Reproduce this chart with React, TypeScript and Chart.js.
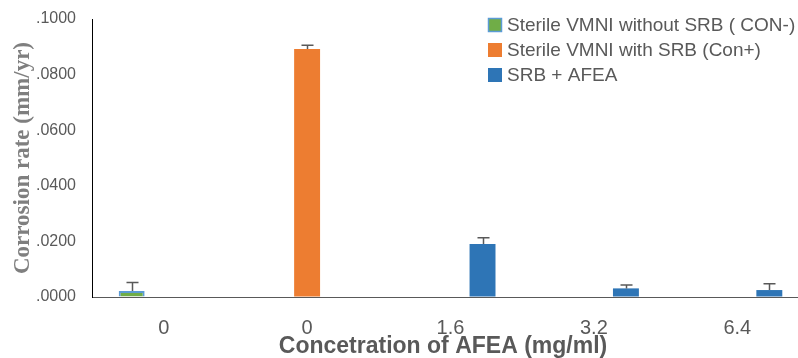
import React, { useEffect, useRef } from "react";
import { Chart, registerables } from "chart.js";

Chart.register(...registerables);

const categories = ["0", "0", "1.6", "3.2", "6.4"];
const seriesLabels = ["Sterile VMNI without SRB ( CON-)", "Sterile VMNI with SRB (Con+)", "SRB + AFEA"];
const conNeg = [0.0022, null, null, null, null];
const conPos = [null, 0.0892, null, null, null];
const srbAfea = [null, null, 0.0191, 0.0031, 0.0025];
const conNegErr = [0.003, 0, 0, 0, 0];
const conPosErr = [0, 0.0014, 0, 0, 0];
const srbAfeaErr = [0, 0, 0.0022, 0.0012, 0.0023];
const yTicks = [0, 0.02, 0.04, 0.06, 0.08, 0.1];

const colors = ["#70AD47", "#ED7D31", "#2E75B6"];
const borderColors = ["#5B9BD5", "#ED7D31", "#2E75B6"];
const errs = [conNegErr, conPosErr, srbAfeaErr];

const errorBarPlugin = {
  id: "errorBars",
  afterDatasetsDraw(chart: any) {
    const ctx = chart.ctx;
    const y = chart.scales.y;
    ctx.save();
    ctx.strokeStyle = "#595959";
    ctx.lineWidth = 1.5;
    chart.data.datasets.forEach((ds: any, di: number) => {
      const meta = chart.getDatasetMeta(di);
      meta.data.forEach((bar: any, i: number) => {
        const v = ds.data[i];
        const e = errs[di][i];
        if (v == null || !e) return;
        const top = y.getPixelForValue(v + e);
        const x = Math.round(bar.x) + 0.5;
        ctx.beginPath();
        ctx.moveTo(x, bar.y);
        ctx.lineTo(x, top);
        ctx.moveTo(x - 6, top);
        ctx.lineTo(x + 6, top);
        ctx.stroke();
      });
    });
    ctx.restore();
  },
};

const decorPlugin = {
  id: "decor",
  afterDraw(chart: any) {
    const ctx = chart.ctx;
    ctx.save();
    ctx.font = "19px 'Liberation Sans'";
    ctx.textBaseline = "middle";
    ctx.textAlign = "left";
    seriesLabels.forEach((lbl, i) => {
      const cy = 25 + i * 25;
      ctx.fillStyle = colors[i];
      ctx.fillRect(488, cy - 7, 14, 14);
      if (i === 0) {
        ctx.strokeStyle = borderColors[0];
        ctx.lineWidth = 1.5;
        ctx.strokeRect(488.5, cy - 6.5, 13, 13);
      }
      ctx.fillStyle = "#595959";
      ctx.fillText(lbl, 507, cy + 1);
    });
    ctx.font = "bold 23px 'Liberation Sans'";
    ctx.textAlign = "center";
    ctx.fillStyle = "#595959";
    ctx.fillText("Concetration of AFEA (mg/ml)", 443, 347);
    ctx.restore();
  },
};

export default function App() {
  const ref = useRef<HTMLCanvasElement>(null);
  useEffect(() => {
    document.body.style.margin = "0";
    document.body.style.overflow = "hidden";
    const chart = new Chart(ref.current!, {
      type: "bar",
      data: {
        labels: categories,
        datasets: [conNeg, conPos, srbAfea].map((d, i) => ({
          label: seriesLabels[i],
          data: d,
          backgroundColor: colors[i],
          borderColor: borderColors[i],
          borderWidth: i === 0 ? 2 : 0,
          categoryPercentage: 0.67,
          barPercentage: 0.81,
        })),
      },
      options: {
        animation: false,
        responsive: true,
        maintainAspectRatio: false,
        layout: { padding: { top: 19, right: 1, left: 0, bottom: 0 } },
        plugins: { legend: { display: false }, tooltip: { enabled: false } },
        scales: {
          x: {
            grid: { display: false, drawTicks: false },
            border: { display: true, color: "#595959", width: 1 },
            ticks: { color: "#595959", font: { family: "'Liberation Sans'", size: 20 }, padding: 19, autoSkip: false, maxRotation: 0 },
            afterFit: (s: any) => { s.height = 61; },
          },
          y: {
            min: 0,
            max: 0.1,
            grid: { display: true, drawOnChartArea: false, drawTicks: true, tickLength: 16, color: "rgba(0,0,0,0)" },
            border: { display: true, color: "#000000", width: 1 },
            afterBuildTicks: (s: any) => { s.ticks = yTicks.map((v) => ({ value: v })); },
            ticks: {
              color: "#595959",
              font: { family: "'Liberation Sans'", size: 16 },
              padding: 0,
              callback: (v: any) => Number(v).toFixed(4).slice(1),
            },
            title: {
              display: true,
              text: "Corrosion rate (mm/yr)",
              color: "#7F7F7F",
              font: { family: "'Liberation Serif'", size: 23, weight: "bold" },
              padding: { top: 9, bottom: 0 },
            },
            afterFit: (s: any) => { s.width = 92; },
          },
        },
      },
      plugins: [errorBarPlugin, decorPlugin],
    });
    return () => chart.destroy();
  }, []);
  return (
    <div style={{ position: "fixed", left: 0, top: 0, width: 798, height: 358, overflow: "hidden", background: "#fff" }}>
      <div style={{ position: "relative", width: 810, height: 358 }}>
        <canvas ref={ref} />
      </div>
    </div>
  );
}
